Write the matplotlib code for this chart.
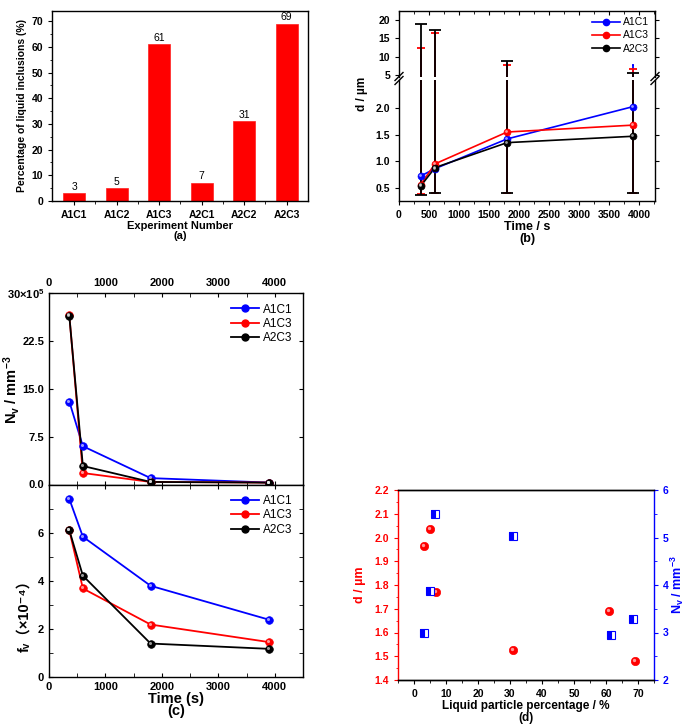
import numpy as np
import matplotlib
matplotlib.use("Agg")
from matplotlib import pyplot as plt
from matplotlib import transforms
from matplotlib.lines import Line2D
from matplotlib.ticker import MultipleLocator, FixedLocator

plt.rcParams['font.family'] = ['Liberation Sans', 'DejaVu Sans', 'Noto Sans CJK SC']
plt.rcParams['mathtext.fontset'] = 'custom'
plt.rcParams['mathtext.rm'] = 'Liberation Sans'
plt.rcParams['mathtext.bf'] = 'Liberation Sans:bold'
plt.rcParams['mathtext.default'] = 'regular'
plt.rcParams['axes.linewidth'] = 1.0

# ---- data ----
# (a) share of liquid inclusions
experiments = ['A1C1', 'A1C2', 'A1C3', 'A2C1', 'A2C2', 'A2C3']
liquid_pct = [3, 5, 61, 7, 31, 69]

# (b)/(c) time series
time_s = [360, 600, 1800, 3900]
series = ['A1C1', 'A1C3', 'A2C3']
colors = ['#0000ff', '#ff0000', '#000000']

d_mean = {'A1C1': [0.72, 0.86, 1.42, 2.03],
          'A1C3': [0.56, 0.95, 1.55, 1.68],
          'A2C3': [0.53, 0.88, 1.35, 1.47]}
d_min = {'A1C1': [0.40, 0.40, 0.40, 0.40],
         'A1C3': [0.39, 0.40, 0.40, 0.40],
         'A2C3': [0.37, 0.40, 0.40, 0.40]}
d_max = {'A1C1': [10.4, 11.2, 7.9, 7.8],
         'A1C3': [12.3, 16.4, 7.6, 6.7],
         'A2C3': [18.8, 17.3, 8.8, 5.5]}

nv = {'A1C1': [13.0, 6.0, 1.0, 0.3],
      'A1C3': [26.5, 1.8, 0.4, 0.3],
      'A2C3': [26.4, 2.9, 0.4, 0.3]}          # x10^5 mm^-3
fv = {'A1C1': [7.40, 5.83, 3.79, 2.38],
      'A1C3': [6.10, 3.68, 2.18, 1.45],
      'A2C3': [6.10, 4.21, 1.39, 1.17]}       # x10^-4

# (d)
pct_d = [3, 5, 7, 31, 61, 69]
d_vs_pct = [1.963, 2.036, 1.772, 1.526, 1.690, 1.480]
pct_n = [3, 5, 6.5, 31, 61.5, 68.5]
nv_vs_pct = [2.99, 3.87, 5.50, 5.04, 2.95, 3.28]

W, H = 685, 725
fig = plt.figure(figsize=(W / 100, H / 100), dpi=100)


def box(l, t, r, b):
    return [l / W, 1 - b / H, (r - l) / W, (b - t) / H]


def balls(ax, x, y, color, size=5.5, z=5):
    ax.plot(x, y, 'o', ms=size, mfc=color, mec=color, mew=0.5, ls='none', zorder=z)
    off = transforms.offset_copy(ax.transData, fig=fig, x=-0.7, y=0.7, units='points')
    ax.plot(x, y, 'o', ms=size * 0.4, mfc='white', mec='none', alpha=0.6,
            ls='none', transform=off, zorder=z + 1)


bold = dict(fontweight='bold')

# ================= (a) =================
ax = fig.add_axes(box(52, 11, 308, 201))
xs = np.arange(len(experiments))
ax.bar(xs, liquid_pct, width=0.52, color='#ff0000', edgecolor='#ff2020', lw=0.5)
for xi, v in zip(xs, liquid_pct):
    ax.text(xi, v + 0.6, str(v), ha='center', va='bottom', fontsize=7.5)
ax.set_xlim(-0.52, 5.5)
ax.set_ylim(0, 74)
ax.set_xticks(xs)
ax.set_xticklabels(experiments, fontsize=7.5, **bold)
ax.xaxis.set_minor_locator(FixedLocator(xs[:-1] + 0.5))
ax.yaxis.set_major_locator(MultipleLocator(10))
ax.yaxis.set_minor_locator(MultipleLocator(5))
ax.tick_params(which='both', direction='out', labelsize=7.5)
ax.tick_params(which='major', length=3)
ax.tick_params(which='minor', length=1.8)
for t in ax.get_yticklabels():
    t.set_fontweight('bold')
ax.set_ylabel('Percentage of liquid inclusions (%)', fontsize=7.5, labelpad=3, **bold)
ax.set_xlabel('Experiment Number\n(a)', fontsize=8, labelpad=1, linespacing=0.95, **bold)

# ================= (b) =================
axlo = fig.add_axes(box(399, 80, 655, 201))
axhi = fig.add_axes(box(399, 11, 655, 77))
caps = {'A1C1': 1.0, 'A1C3': 3.0, 'A2C3': 4.5}
for a in (axlo, axhi):
    for s, c in zip(series, colors):
        m = np.array(d_mean[s])
        lo = m - np.array(d_min[s])
        hi = np.array(d_max[s]) - m
        a.errorbar(time_s, m, yerr=[lo, hi], fmt='none', ecolor=c, elinewidth=1.3,
                   capsize=caps[s], capthick=1.3, zorder=2)
    a.set_xlim(0, 4260)
    a.xaxis.set_major_locator(MultipleLocator(500))
    a.xaxis.set_minor_locator(MultipleLocator(250))
for s, c in zip(series, colors):
    axlo.plot(time_s, d_mean[s], '-', color=c, lw=1.2, zorder=3)
    balls(axlo, time_s, d_mean[s], c, size=5)
axlo.set_ylim(0.25, 2.53)
axhi.set_ylim(4.46, 22.4)
axlo.set_yticks([0.5, 1.0, 1.5, 2.0])
axhi.set_yticks([5, 10, 15, 20])
axlo.spines['top'].set_visible(False)
axhi.spines['bottom'].set_visible(False)
axlo.tick_params(axis='x', which='both', bottom=True, top=False, direction='out', labelsize=7.5)
axlo.tick_params(axis='y', left=True, right=True, direction='out', labelsize=7.5)
axhi.tick_params(axis='x', which='both', bottom=False, top=True, labelbottom=False, direction='in')
axhi.tick_params(axis='y', left=True, right=True, direction='out', labelsize=7.5)
for a in (axlo, axhi):
    a.tick_params(which='major', length=3)
    a.tick_params(which='minor', length=1.8)
    for t in a.get_xticklabels() + a.get_yticklabels():
        t.set_fontweight('bold')
axlo.set_xlabel('Time / s\n(b)', fontsize=9, labelpad=1, linespacing=0.9, **bold)
fig.text(362 / W, 1 - 94 / H, 'd / µm', rotation=90, ha='center', va='center',
         fontsize=8.5, **bold)
handles = [Line2D([], [], color=c, lw=1.2, marker='o', ms=4.5, mfc=c) for c in colors]
axhi.legend(handles, series, loc='upper right', frameon=False, fontsize=7.5,
            handlelength=2.6, handletextpad=0.3, labelspacing=0.3,
            borderaxespad=0.2, bbox_to_anchor=(1.0, 1.0))
for xp in (399, 655):
    for dy in (-2.0, 2.0):
        fig.add_artist(Line2D([(xp - 4) / W, (xp + 4) / W],
                              [1 - (78.5 + dy + 4) / H, 1 - (78.5 + dy - 4) / H],
                              color='k', lw=1.0))

# ================= (c) =================
axn = fig.add_axes(box(49, 293, 303, 484.5))
axf = fig.add_axes(box(49, 484.5, 303, 677))
for a, data in ((axn, nv), (axf, fv)):
    for s, c in zip(series, colors):
        a.plot(time_s, data[s], '-', color=c, lw=1.3, zorder=3)
        balls(a, time_s, data[s], c, size=5.5)
    a.set_xlim(0, 4500)
    a.xaxis.set_major_locator(MultipleLocator(1000))
    a.xaxis.set_minor_locator(MultipleLocator(500))
    a.tick_params(which='both', direction='in', top=True, right=True, labelsize=8)
    a.tick_params(which='major', length=3)
    a.tick_params(which='minor', length=3)
    handles = [Line2D([], [], color=c, lw=1.3, marker='o', ms=5, mfc=c) for c in colors]
    a.legend(handles, series, loc='upper right', frameon=False, fontsize=8.5,
             handlelength=2.4, handletextpad=0.3, labelspacing=0.2,
             borderaxespad=0.5, bbox_to_anchor=(1.0, 1.0))
axn.set_ylim(0, 30)
axn.set_yticks([0, 7.5, 15, 22.5, 30])
axn.set_yticklabels(['0.0', '7.5', '15.0', '22.5', '30×10$^{5}$'])
axn.tick_params(axis='x', labeltop=True, labelbottom=False)
axf.set_ylim(0, 8)
axf.yaxis.set_major_locator(MultipleLocator(2))
axf.yaxis.set_minor_locator(MultipleLocator(1))
axf.set_yticks([0, 2, 4, 6])
for a in (axn, axf):
    for t in a.get_xticklabels() + a.get_yticklabels():
        t.set_fontweight('bold')
fig.text(12 / W, 1 - 390 / H, 'N$_v$ / mm$^{-3}$', rotation=90, ha='center',
         va='center', fontsize=10.5, **bold)
fig.text(24 / W, 1 - 612 / H, 'fᵥ（×10⁻⁴）', rotation=90, ha='center',
         va='center', fontsize=10.5, **bold)
axf.set_xlabel('Time (s)\n(c)', fontsize=10.5, labelpad=0, linespacing=0.85, **bold)

# ================= (d) =================
axd = fig.add_axes(box(398, 490, 654, 680))
axr = axd.twinx()
balls(axd, pct_d, d_vs_pct, '#ff0000', size=6)
axr.plot(pct_n, nv_vs_pct, 's', ms=5.5, color='#0000ff', mec='#0000ff',
         fillstyle='left', markerfacecoloralt='white', mew=0.8, ls='none')
axd.set_xlim(-5, 75)
axd.set_ylim(1.4, 2.2)
axr.set_ylim(2, 6)
axd.xaxis.set_major_locator(MultipleLocator(10))
axd.xaxis.set_minor_locator(MultipleLocator(5))
axd.yaxis.set_minor_locator(MultipleLocator(0.05))
axr.yaxis.set_major_locator(MultipleLocator(1))
axr.yaxis.set_minor_locator(MultipleLocator(0.5))
axd.spines['left'].set_color('#ff0000')
axd.spines['right'].set_visible(False)
axr.spines['left'].set_visible(False)
axr.spines['right'].set_color('#0000ff')
axd.tick_params(which='both', direction='out', labelsize=7.5)
axd.tick_params(axis='y', which='both', colors='#ff0000')
axr.tick_params(axis='y', which='both', direction='out', colors='#0000ff', labelsize=7.5)
for a in (axd, axr):
    a.tick_params(which='major', length=3)
    a.tick_params(which='minor', length=1.8)
axd.set_yticks(np.round(np.arange(1.4, 2.21, 0.1), 1))
axd.set_yticklabels(['%.1f' % v for v in np.arange(1.4, 2.21, 0.1)])
for t in axd.get_xticklabels() + axd.get_yticklabels() + axr.get_yticklabels():
    t.set_fontweight('bold')
axd.set_ylabel('d / µm', color='#ff0000', fontsize=9, labelpad=6, **bold)
axr.set_ylabel('N$_v$ / mm$^{-3}$', color='#0000ff', fontsize=9, labelpad=0, **bold)
axd.set_xlabel('Liquid particle percentage / %\n(d)', fontsize=8.5, labelpad=1,
               linespacing=0.95, **bold)

fig.savefig('out.png', dpi=100)
